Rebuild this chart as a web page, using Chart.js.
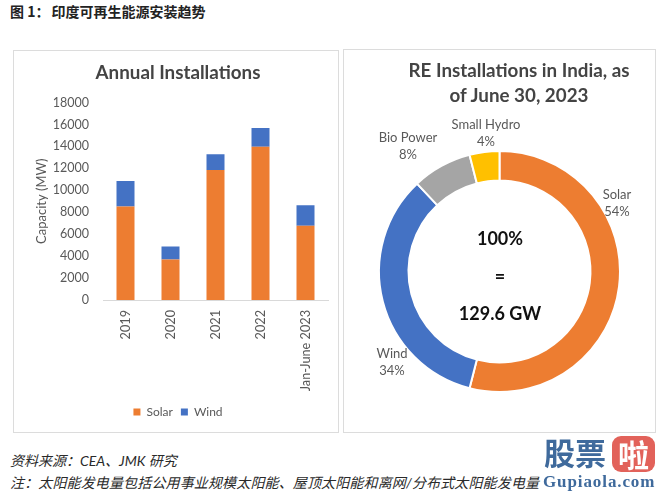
<!DOCTYPE html>
<html>
<head>
<meta charset="utf-8">
<script src="https://cdn.jsdelivr.net/npm/chart.js@4"></script>
<style>
  html, body { margin: 0; padding: 0; background: #fff; }
  body { width: 660px; height: 492px; position: relative; overflow: hidden; font-family: Lato, "Noto Sans CJK SC", sans-serif; }
  .abs { position: absolute; white-space: nowrap; }
  .panel { position: absolute; box-sizing: border-box; border: 1px solid #dcdcdc; }
  canvas { position: absolute; }
  #head { left: 10px; top: 2px; font: bold 14px/18px "Noto Sans CJK SC", sans-serif; color: #222; }
  #head span { margin-left: 2px; }
  .foot { left: 10px; font: italic 14px/18px Lato, "Noto Sans CJK SC", sans-serif; color: #2a2a2a; }
  #pieTitle { left: 344px; width: 350px; top: 57px; text-align: center; font: bold 18.8px/25px Lato, sans-serif; color: #444; }
  .mid { left: 400px; width: 200px; text-align: center; font: bold 18px/22px Lato, sans-serif; color: #111; }
  .slice { transform: translate(-50%, -50%); text-align: center; font: 13px/17px Lato, sans-serif; color: #595959; }
  .s0 { left: 617px; top: 203px; }
  .s1 { left: 392px; top: 362px; }
  .s2 { left: 408px; top: 146px; }
  .s3 { left: 486px; top: 133px; }
  #wm1 { left: 544px; top: 432px; font: bold 31px/40px "Noto Sans CJK SC", sans-serif; color: #3f6a9c; }
  #wm2 { left: 612px; top: 436px; width: 43px; height: 36px; border-radius: 9px; background: #e2625a; color: #fff; text-align: center; font: bold 31px/36px "Noto Sans CJK SC", sans-serif; }
  #wm3 { left: 543px; top: 472px; font: bold 17px/20px "Liberation Serif", serif; letter-spacing: .9px; color: #3f6a9c; }
</style>
</head>
<body>
<div id="head" class="abs">图 1：<span>印度可再生能源安装趋势</span></div>

<div class="panel" style="left:13px;top:50px;width:326px;height:383px"></div>
<div class="panel" style="left:343px;top:49px;width:313px;height:384px"></div>

<canvas id="bars" width="325" height="382" style="left:13px;top:50px"></canvas>
<canvas id="ring" width="311" height="382" style="left:344px;top:50px"></canvas>

<div id="pieTitle" class="abs">RE Installations in India, as<br>of June 30, 2023</div>
<div class="abs mid" style="top:227px">100%</div>
<div class="abs mid" style="top:265px">=</div>
<div class="abs mid" style="top:302px">129.6 GW</div>

<div class="abs foot" style="top:452px">资料来源：CEA、JMK 研究</div>
<div class="abs foot" style="top:474px;letter-spacing:.14px">注：太阳能发电量包括公用事业规模太阳能、屋顶太阳能和离网/分布式太阳能发电量</div>

<div id="wm1" class="abs">股票</div>
<div id="wm2" class="abs">啦</div>
<div id="wm3" class="abs">Gupiaola.com</div>

<script>
const categories = ['2019', '2020', '2021', '2022', 'Jan-June 2023'];
const solarValues = [8520, 3690, 11860, 13960, 6760];
const windValues = [2340, 1190, 1430, 1730, 1880];

const mixLabels = ['Solar', 'Wind', 'Bio Power', 'Small Hydro'];
const mixShares = [54, 34, 8, 4];

const orange = '#ED7D31', blue = '#4472C4', grey = '#A5A5A5', gold = '#FFC000';
const textGrey = '#595959';

new Chart(document.getElementById('bars'), {
  type: 'bar',
  data: {
    labels: categories,
    datasets: [
      { label: 'Solar', data: solarValues, backgroundColor: orange },
      { label: 'Wind', data: windValues, backgroundColor: blue }
    ]
  },
  options: {
    responsive: false,
    animation: false,
    datasets: { bar: { categoryPercentage: 1, barPercentage: 0.4 } },
    layout: { padding: { left: 15, right: 10, top: 0, bottom: 4 } },
    plugins: {
      title: {
        display: true,
        text: 'Annual Installations',
        color: '#444',
        font: { family: 'Lato', size: 18.8, weight: 'bold' },
        padding: { top: 12, bottom: 18 }
      },
      legend: {
        position: 'bottom',
        labels: {
          usePointStyle: true,
          pointStyle: 'rect',
          boxWidth: 7,
          boxHeight: 7,
          color: textGrey,
          font: { family: 'Lato', size: 12 },
          padding: 8
        }
      },
      tooltip: { enabled: false }
    },
    scales: {
      x: {
        stacked: true,
        grid: { display: false, drawTicks: false },
        border: { color: '#d9d9d9' },
        ticks: {
          color: textGrey,
          font: { family: 'Lato', size: 12.7 },
          minRotation: 90,
          maxRotation: 90,
          padding: 10
        },
        afterFit: scale => { scale.height = 98; }
      },
      y: {
        stacked: true,
        min: 0,
        max: 18000,
        grid: { display: false, drawTicks: false },
        border: { display: false },
        title: {
          display: true,
          text: 'Capacity (MW)',
          color: textGrey,
          font: { family: 'Lato', size: 13 },
          padding: { top: 6, bottom: 0 }
        },
        ticks: {
          stepSize: 2000,
          color: textGrey,
          font: { family: 'Lato', size: 12.5 },
          padding: 14,
          callback: value => value
        },
        afterFit: scale => { scale.width = 75; }
      }
    }
  }
});

new Chart(document.getElementById('ring'), {
  type: 'doughnut',
  data: {
    labels: mixLabels,
    datasets: [{
      data: mixShares,
      backgroundColor: [orange, blue, grey, gold],
      borderColor: '#fff',
      borderWidth: 2
    }]
  },
  options: {
    responsive: false,
    animation: false,
    cutout: '75.5%',
    layout: { padding: { left: 34, right: 34, top: 100, bottom: 39 } },
    plugins: { legend: { display: false }, tooltip: { enabled: false } }
  }
});

// slice labels sit outside the ring, placed by hand like the original
mixLabels.forEach((name, i) => {
  const el = document.createElement('div');
  el.className = 'abs slice s' + i;
  el.innerHTML = name + '<br>' + mixShares[i] + '%';
  document.body.appendChild(el);
});
</script>
</body>
</html>
